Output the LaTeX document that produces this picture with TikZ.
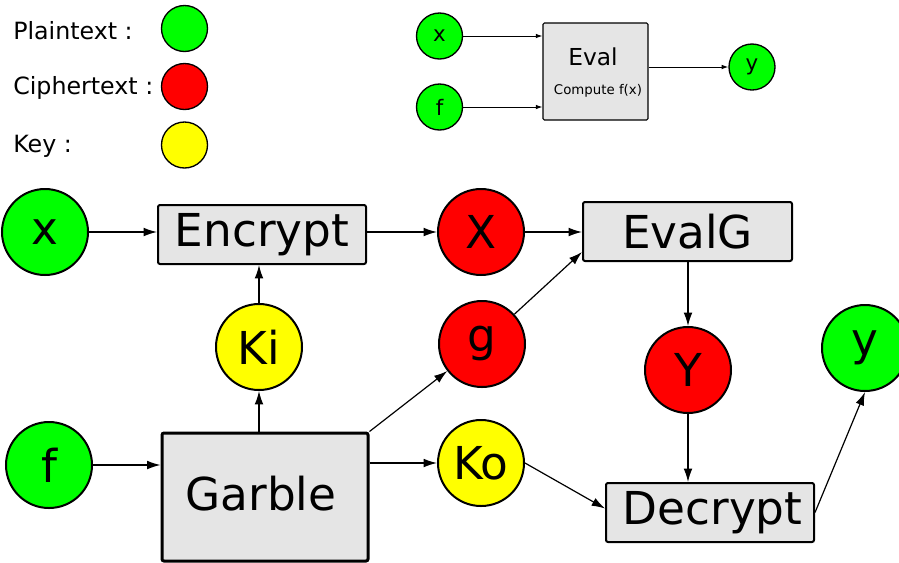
\documentclass[tikz,border=0pt]{standalone}
\usepackage{fontspec}
\setmainfont{DejaVu Sans}
\usetikzlibrary{arrows.meta}
\definecolor{plain}{HTML}{00FF00}
\definecolor{cipher}{HTML}{FF0000}
\definecolor{keycol}{HTML}{FFFF00}
\definecolor{boxgray}{HTML}{E5E5E5}
\begin{document}
\begin{tikzpicture}[x=0.75pt,y=-0.75pt]

\tikzstyle{vertex}=[circle,draw=black,line width=1.5pt,minimum size=64.5pt,inner sep=0pt,font=\fontsize{34}{34}\selectfont]
\tikzstyle{dot}=[circle,draw=black,line width=1pt,minimum size=34.5pt,inner sep=0pt,font=\fontsize{16}{16}\selectfont]
\tikzstyle{block}=[draw=black,fill=boxgray,line width=1.5pt,rounded corners=1.5pt,minimum width=156pt,minimum height=44.25pt,inner sep=0pt,font=\fontsize{34}{34}\selectfont]
\tikzstyle{conn}=[-{Latex[length=10pt,width=6.5pt]},line width=0.9pt]
\tikzstyle{thin conn}=[-{Latex[length=5pt,width=3.5pt]},line width=0.75pt]
\tikzstyle{legendtext}=[anchor=base west,inner sep=0pt,font=\fontsize{17.8}{17.8}\selectfont]

\useasboundingbox (0,0) rectangle (899,562);

% legend
\node[legendtext] (lp) at (13,39) {Plaintext :};
\node[legendtext] (lc) at (13,94) {Ciphertext :};
\node[legendtext] (lk) at (13,152) {Key :};
\node[dot, fill=plain] (dp) at (184.5,28.5){};
\node[dot, fill=cipher] (dc) at (184.5,86.5){};
\node[dot, fill=keycol] (dk) at (184.5,145){};

% small eval
\node[dot, fill=plain] (sx) at (439.5,36) {x};
\node[dot, fill=plain] (sf) at (439.5,107) {f};
\node[draw=black,fill=boxgray,line width=0.8pt,rounded corners=1pt,minimum width=78.75pt,minimum height=72.75pt,inner sep=0pt] (eval) at (595.5,71.5){};
\node[font=\fontsize{17.5}{17.5}\selectfont] (evaltext) at (593,57) {Eval};
\node[font=\fontsize{10}{10}\selectfont] (compute) at (598,91) {Compute f(x)};
\node[dot, fill=plain] (sy) at (752,67) {y};

\draw[thin conn] (sx) -- (sx -| eval.west);
\draw[thin conn] (sf) -- (sf -| eval.west);
\draw[thin conn] (eval.east |- sy) -- (sy);

% main
\node[vertex, fill=plain] (x) at (45,232) {x};
\node[vertex, fill=plain] (f) at (49,465) {f};
\node[vertex, fill=keycol] (ki) at (259,347) {Ki};
\node[vertex, fill=keycol] (ko) at (481,463) {Ko};
\node[vertex, fill=cipher] (X) at (481,232) {X};
\node[vertex, fill=cipher] (g) at (482,344) {g};
\node[vertex, fill=cipher] (Y) at (688,370) {Y};
\node[vertex, fill=plain] (y) at (865,348) {y};

\node[block] (enc) at (262,234.5) {Encrypt};
\node[block, line width=2.25pt, minimum width=154.5pt, minimum height=96pt] (garble) at (265,497) {};
\node[font=\fontsize{34}{34}\selectfont] (garbletext) at (261,494) {Garble};
\node[block, minimum width=156.75pt] (evalg) at (687.5,231.5) {EvalG\hspace{8pt}};
\node[block] (dec) at (710,512.5) {\hspace{4pt}Decrypt};

\draw[conn] (x) -- (x -| enc.west);
\draw[conn] (enc.east |- X) -- (X);
\draw[conn] (X) -- (X -| evalg.west);
\draw[conn] (g) -- ([yshift=7.5pt]evalg.south west);
\draw[conn] (evalg.south -| Y) -- (Y);
\draw[conn] (ki) -- (ki |- enc.south);
\draw[conn] (garble.north -| ki) -- (ki);
\draw[conn] (f) -- (f -| garble.west);
\draw[conn] (garble.north east) -- (g);
\draw[conn] (garble.east |- ko) -- (ko);
\draw[conn] (ko.east) -- ([yshift=3pt]dec.west);
\draw[conn] (Y) -- (Y |- dec.north);
\draw[conn] (dec.east) -- (y.south);
\end{tikzpicture}
\end{document}
